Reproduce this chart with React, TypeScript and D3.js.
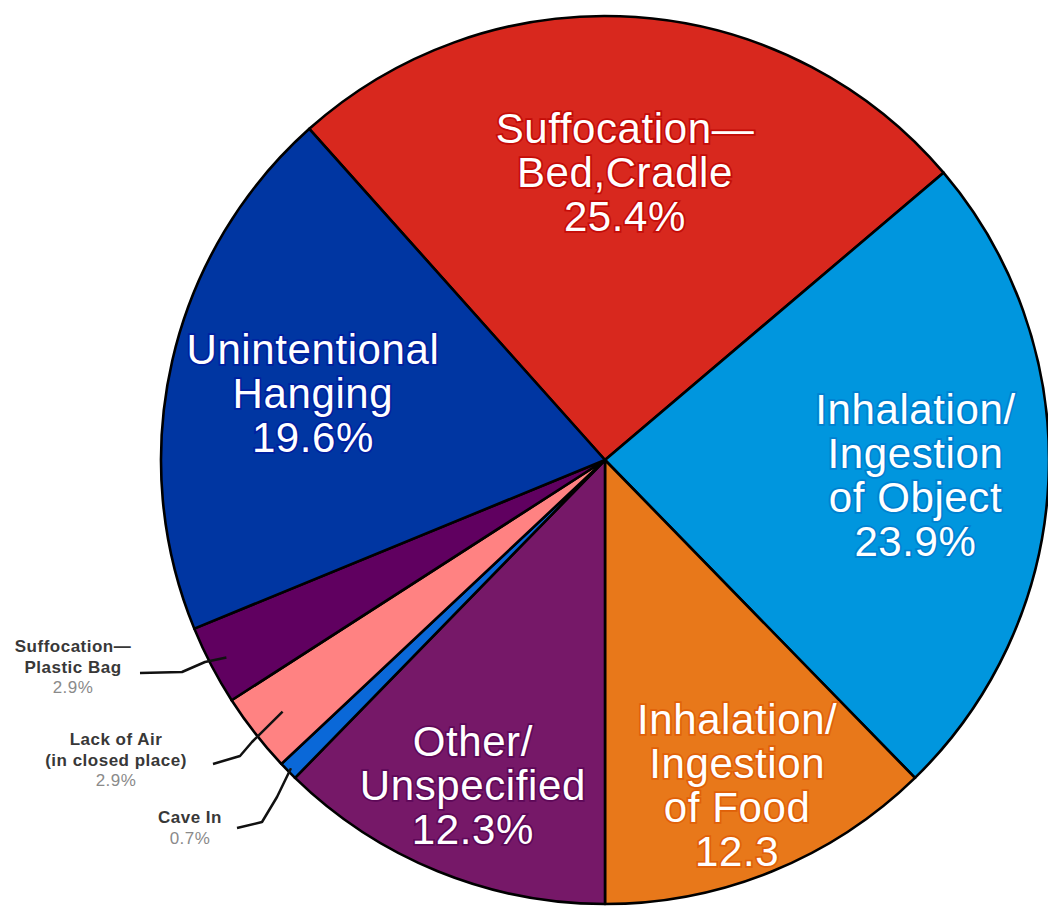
import React from 'react';
import * as d3 from 'd3';

// slice order runs clockwise from the red wedge
const categories = [
  'Suffocation—Bed,Cradle',
  'Inhalation/Ingestion of Object',
  'Inhalation/Ingestion of Food',
  'Other/Unspecified',
  'Cave In',
  'Lack of Air (in closed place)',
  'Suffocation—Plastic Bag',
  'Unintentional Hanging',
];
const values = [25.4, 23.9, 12.3, 12.3, 0.7, 2.9, 2.9, 19.6];
const labelLines = [
  ['Suffocation—', 'Bed,Cradle', '25.4%'],
  ['Inhalation/', 'Ingestion', 'of Object', '23.9%'],
  ['Inhalation/', 'Ingestion', 'of Food', '12.3'],
  ['Other/', 'Unspecified', '12.3%'],
  ['Cave In', '0.7%'],
  ['Lack of Air', '(in closed place)', '2.9%'],
  ['Suffocation—', 'Plastic Bag', '2.9%'],
  ['Unintentional', 'Hanging', '19.6%'],
];
const colors = ['#D8281E', '#0096DE', '#E8781A', '#761868', '#0A68D8', '#FF8282', '#600060', '#0036A2'];
const haloColors = ['#C40C08', '#0080D0', '#E06008', '#5E0858', '#0050C0', '#E06060', '#480048', '#0020A0'];

const W = 1048;
const H = 906;
const cx = 605;
const cy = 460;
const R = 444;
const startDeg = -41.76;

// inside labels: radius fraction per slice (null = callout outside)
const inRadius = [0.65, 0.7, 0.79, 0.79, null, null, null, 0.675];
// callouts on the left: text centre, first baseline, leader path towards slice
const callouts: Record<number, { x: number; y: number; path: [number, number][]; r: number }> = {
  6: { x: 73, y: 652, path: [[140, 673], [182, 672], [205, 662]], r: 427 },
  5: { x: 116, y: 745, path: [[213, 764], [240, 756], [252, 742]], r: 409 },
  4: { x: 190, y: 823, path: [[237, 828], [262, 822], [277, 797]], r: 440 },
};

export default function App() {
  const pie = d3
    .pie<number>()
    .sort(null)
    .value(d => d)
    .startAngle((startDeg * Math.PI) / 180)
    .endAngle((startDeg * Math.PI) / 180 + 2 * Math.PI);
  const arcs = pie(values);
  const arc = d3.arc<d3.PieArcDatum<number>>().innerRadius(0).outerRadius(R);
  const lineH = 44;

  const polar = (a: number, r: number): [number, number] => [Math.sin(a) * r, -Math.cos(a) * r];

  return (
    <svg width={W} height={H} style={{ position: 'absolute', left: 0, top: 0 }}>
      <rect width={W} height={H} fill="#fff" />
      <g transform={`translate(${cx},${cy})`}>
        {arcs.map((a, i) => (
          <path key={categories[i]} d={arc(a) || ''} fill={colors[i]} stroke="#000" strokeWidth={2.6} strokeLinejoin="round" />
        ))}
        {arcs.map((a, i) => {
          const f = inRadius[i];
          if (f == null) return null;
          const mid = (a.startAngle + a.endAngle) / 2;
          const [x, y] = polar(mid, R * f);
          const lines = labelLines[i];
          return (
            <text
              key={'l' + i}
              textAnchor="middle"
              fontFamily="'Liberation Sans', Arial, sans-serif"
              fontSize={42}
              letterSpacing={0.6}
              fill="#fff"
              stroke={haloColors[i]}
              strokeWidth={3.5}
              paintOrder="stroke"
            >
              {lines.map((t, j) => (
                <tspan key={j} x={x} y={y + (j - (lines.length - 1) / 2) * lineH + 15}>
                  {t}
                </tspan>
              ))}
            </text>
          );
        })}
      </g>
      {Object.keys(callouts).map(k => {
        const i = +k;
        const c = callouts[i];
        const a = arcs[i];
        const mid = (a.startAngle + a.endAngle) / 2;
        const [ex, ey] = polar(mid, c.r);
        const pts: [number, number][] = [...c.path, [cx + ex, cy + ey]];
        const lines = labelLines[i];
        return (
          <g key={'c' + i}>
            <path d={d3.line()(pts) || ''} fill="none" stroke="#111" strokeWidth={2.5} strokeLinejoin="round" />
            <text textAnchor="middle" fontFamily="'Liberation Sans', Arial, sans-serif" fontSize={17} letterSpacing={0.5}>
              {lines.map((t, j) => {
                const last = j === lines.length - 1;
                return (
                  <tspan key={j} x={c.x} y={c.y + j * 20.5} fill={last ? '#8a8a8a' : '#383838'} fontWeight={last ? 'normal' : 'bold'}>
                    {t}
                  </tspan>
                );
              })}
            </text>
          </g>
        );
      })}
    </svg>
  );
}
